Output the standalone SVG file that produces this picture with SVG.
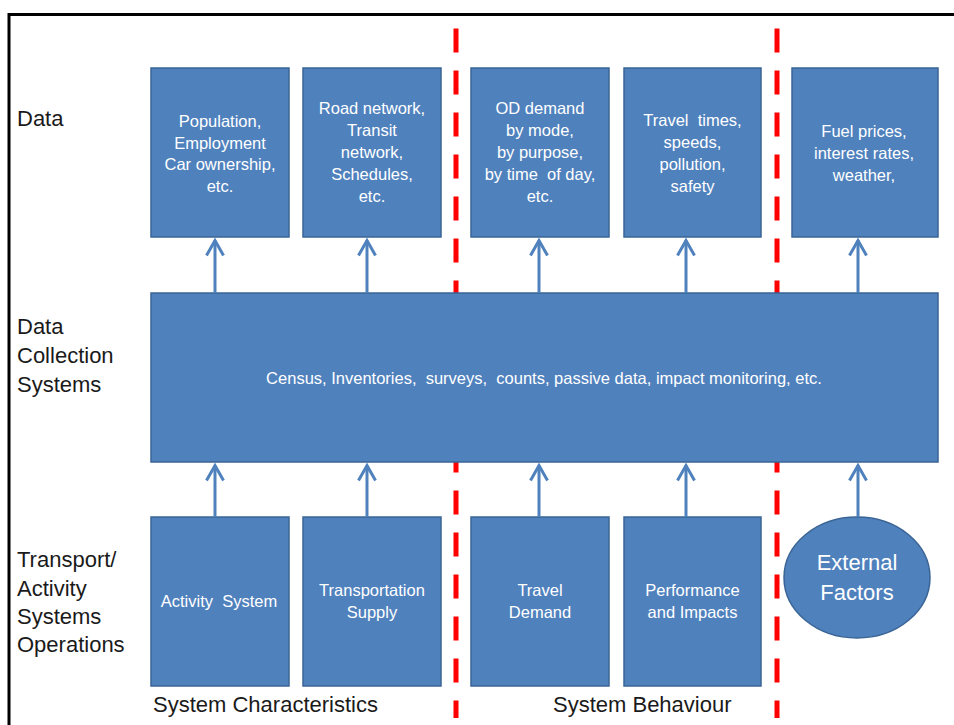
<svg xmlns="http://www.w3.org/2000/svg" width="954" height="725" viewBox="0 0 954 725">
<defs>
<style>
.box{fill:#4F81BD;stroke:#3A6495;stroke-width:1.5}
.bt{font-family:"Liberation Sans",Arial,sans-serif;font-size:16.5px;fill:#FFFFFF;text-anchor:middle;white-space:pre}
.lbl{font-family:"Liberation Sans",Arial,sans-serif;font-size:22px;fill:#1A1A1A;white-space:pre}
.arr{stroke:#4F81BD;stroke-width:3;fill:none}
.dash{stroke:#FF0000;stroke-width:5;stroke-dasharray:24 18;fill:none}
</style>
<marker id="ah" markerUnits="userSpaceOnUse" markerWidth="20" markerHeight="20" refX="0" refY="0" orient="auto" overflow="visible">
<path d="M-15,-8.5 L0,0 L-15,8.5" fill="none" stroke="#4F81BD" stroke-width="3" stroke-linejoin="miter"/>
</marker>
</defs>
<rect width="954" height="725" fill="#FFFFFF"/>
<g id="frame">
<path d="M954,14.5 H9 V725" fill="none" stroke="#000000" stroke-width="3"/>
</g>
<g id="dividers">
<line class="dash" x1="456" y1="28.5" x2="456" y2="718"/>
<line class="dash" x1="777" y1="28.5" x2="777" y2="718"/>
</g>
<g id="labels">
<text class="lbl" x="17" y="126">Data</text>
<text class="lbl" x="17" y="334">Data</text>
<text class="lbl" x="17" y="363">Collection</text>
<text class="lbl" x="17" y="392">Systems</text>
<text class="lbl" x="17" y="567">Transport/</text>
<text class="lbl" x="17" y="596">Activity</text>
<text class="lbl" x="17" y="624">Systems</text>
<text class="lbl" x="17" y="652">Operations</text>
<text class="lbl" x="153" y="712">System Characteristics</text>
<text class="lbl" x="553" y="712">System Behaviour</text>
</g>
<g id="data-population">
<rect class="box" x="151" y="68" width="138" height="169"/>
<text class="bt" x="220" y="127">Population,</text>
<text class="bt" x="220" y="148.5">Employment</text>
<text class="bt" x="220" y="170">Car ownership,</text>
<text class="bt" x="220" y="191.5">etc.</text>
</g>
<g id="data-network">
<rect class="box" x="303" y="68" width="138" height="169"/>
<text class="bt" x="372" y="114">Road network,</text>
<text class="bt" x="372" y="136">Transit</text>
<text class="bt" x="372" y="158">network,</text>
<text class="bt" x="372" y="180">Schedules,</text>
<text class="bt" x="372" y="202">etc.</text>
</g>
<g id="data-od">
<rect class="box" x="471" y="68" width="138" height="169"/>
<text class="bt" x="540" y="114">OD demand</text>
<text class="bt" x="540" y="136">by mode,</text>
<text class="bt" x="540" y="158">by purpose,</text>
<text class="bt" x="540" y="180">by time  of day,</text>
<text class="bt" x="540" y="202">etc.</text>
</g>
<g id="data-travel">
<rect class="box" x="624" y="68" width="137" height="169"/>
<text class="bt" x="692.5" y="126">Travel  times,</text>
<text class="bt" x="692.5" y="148">speeds,</text>
<text class="bt" x="692.5" y="170">pollution,</text>
<text class="bt" x="692.5" y="192">safety</text>
</g>
<g id="data-fuel">
<rect class="box" x="792" y="68" width="146" height="169"/>
<text class="bt" x="864" y="137">Fuel prices,</text>
<text class="bt" x="864" y="159">interest rates,</text>
<text class="bt" x="864" y="181">weather,</text>
</g>
<g id="collection">
<rect class="box" x="151" y="293" width="787" height="169"/>
<text class="bt" x="544" y="384">Census, Inventories,  surveys,  counts, passive data, impact monitoring, etc.</text>
</g>
<g id="activity-system">
<rect class="box" x="151" y="517" width="138" height="169"/>
<text class="bt" x="219" y="607">Activity  System</text>
</g>
<g id="transportation-supply">
<rect class="box" x="303" y="517" width="138" height="169"/>
<text class="bt" x="372" y="596">Transportation</text>
<text class="bt" x="372" y="618">Supply</text>
</g>
<g id="travel-demand">
<rect class="box" x="471" y="517" width="138" height="169"/>
<text class="bt" x="540" y="596">Travel</text>
<text class="bt" x="540" y="618">Demand</text>
</g>
<g id="performance">
<rect class="box" x="624" y="517" width="137" height="169"/>
<text class="bt" x="692.5" y="596">Performance</text>
<text class="bt" x="692.5" y="618">and Impacts</text>
</g>
<g id="external-factors">
<ellipse class="box" cx="857" cy="577.5" rx="73" ry="60.5"/>
<text class="bt" x="857" y="570" style="font-size:22px">External</text>
<text class="bt" x="857" y="600" style="font-size:22px">Factors</text>
</g>
<g id="connectors">
<line class="arr" x1="215" y1="293" x2="215" y2="240.5" marker-end="url(#ah)"/>
<line class="arr" x1="367" y1="293" x2="367" y2="240.5" marker-end="url(#ah)"/>
<line class="arr" x1="539" y1="293" x2="539" y2="240.5" marker-end="url(#ah)"/>
<line class="arr" x1="686" y1="293" x2="686" y2="240.5" marker-end="url(#ah)"/>
<line class="arr" x1="858" y1="293" x2="858" y2="240.5" marker-end="url(#ah)"/>
<line class="arr" x1="215" y1="517" x2="215" y2="465.5" marker-end="url(#ah)"/>
<line class="arr" x1="367" y1="517" x2="367" y2="465.5" marker-end="url(#ah)"/>
<line class="arr" x1="539" y1="517" x2="539" y2="465.5" marker-end="url(#ah)"/>
<line class="arr" x1="686" y1="517" x2="686" y2="465.5" marker-end="url(#ah)"/>
<line class="arr" x1="858" y1="517" x2="858" y2="465.5" marker-end="url(#ah)"/>
</g>
</svg>
